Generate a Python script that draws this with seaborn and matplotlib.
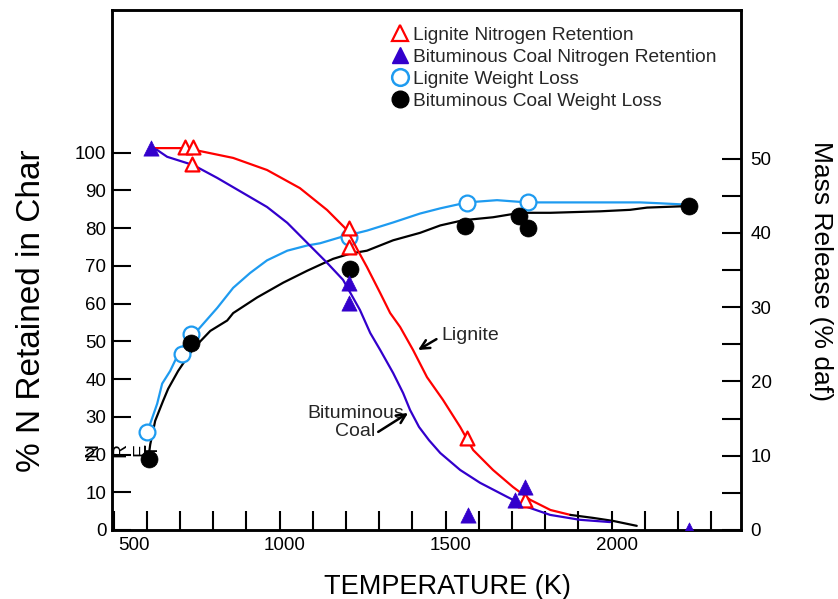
import matplotlib
matplotlib.use("Agg")
import matplotlib.pyplot as plt
import matplotlib.transforms as mtransforms
import seaborn as sns
from matplotlib.lines import Line2D

# ---- measured points ----
lig_n_T = [715, 739, 736, 1209, 1209, 1565, 1739]
lig_n_pct = [101.5, 101.5, 97.1, 80.0, 75.0, 24.4, 8.0]

bit_n_T = [613, 1209, 1209, 1568, 1709, 1739, 2233]
bit_n_pct = [101.2, 65.5, 60.2, 4.0, 8.0, 11.5, 0.0]

lig_wl_T = [601, 705, 733, 1209, 1565, 1747]
lig_wl_pct = [13.2, 23.7, 26.4, 39.4, 44.0, 44.1]

bit_wl_T = [606, 733, 1212, 1559, 1721, 1748, 2234]
bit_wl_pct = [9.5, 25.2, 35.2, 40.9, 42.3, 40.7, 43.6]

# ---- trend curves ----
lig_n_fit_T = [619, 715, 761, 860, 962, 1061, 1143, 1203, 1235, 1263, 1303, 1333,
               1363, 1402, 1444, 1492, 1544, 1583, 1643, 1703, 1755, 1816, 1876]
lig_n_fit = [101.2, 101.2, 100.4, 98.6, 95.4, 90.6, 84.8, 79.5, 74.2, 69.7, 62.8, 57.5,
             53.8, 47.7, 40.5, 34.5, 27.3, 21.2, 15.9, 11.4, 8.0, 5.3, 4.0]

tail_T = [1876, 1945, 2005, 2076]
tail_pct = [4.0, 3.2, 2.4, 1.1]

bit_n_fit_T = [613, 631, 661, 740, 812, 890, 962, 1023, 1083, 1143, 1191, 1242, 1273,
               1303, 1342, 1372, 1393, 1420, 1450, 1484, 1544, 1604, 1685, 1746, 1815, 1905, 1996]
bit_n_fit = [101.2, 100.7, 98.9, 96.7, 93.3, 89.3, 85.6, 81.4, 76.1, 70.8, 66.3, 58.3, 52.2,
             47.7, 41.6, 36.3, 31.8, 27.3, 23.8, 20.4, 15.9, 12.5, 8.8, 6.1, 4.0, 2.7, 2.1]

lig_wl_fit_T = [601, 610, 631, 646, 670, 700, 736, 751, 812, 860, 911, 962, 1023, 1083,
                1122, 1182, 1263, 1342, 1423, 1484, 1565, 1655, 1745, 1836, 2086, 2137, 2227]
lig_wl_fit = [13.2, 14.3, 17.0, 19.7, 21.4, 24.2, 26.4, 26.8, 29.9, 32.6, 34.6, 36.3, 37.6,
              38.3, 38.6, 39.4, 40.3, 41.4, 42.6, 43.3, 44.1, 44.4, 44.1, 44.1, 44.1, 44.0, 43.8]

bit_wl_fit_T = [604, 610, 625, 649, 664, 694, 730, 761, 791, 842, 860, 932, 1011, 1083,
                1161, 1212, 1263, 1342, 1423, 1484, 1553, 1643, 1725, 1816, 1966, 2056, 2107, 2227]
bit_wl_fit = [9.5, 11.5, 14.7, 17.4, 19.0, 21.4, 23.8, 25.4, 26.8, 28.2, 29.2, 31.3, 33.3, 34.9,
              36.5, 37.2, 37.6, 39.0, 40.0, 41.0, 41.7, 42.1, 42.7, 42.7, 42.9, 43.1, 43.4, 43.6]

# ---- labels ----
x_ticks = list(range(500, 2400, 100))
x_labels = [str(t) if t % 500 == 0 else "" for t in x_ticks]
left_ticks = list(range(0, 101, 10))
right_ticks = list(range(0, 51, 5))
right_labels = [str(t) if t % 10 == 0 else "" for t in right_ticks]
legend_labels = ["Lignite Nitrogen Retention", "Bituminous Coal Nitrogen Retention",
                 "Lignite Weight Loss", "Bituminous Coal Weight Loss"]

RED = "#ff0000"
PURPLE = "#3300cc"
SKY = "#1e9bf0"
BLACK = "#000000"

sns.set_theme(style="white")
plt.rcParams["font.family"] = ["Liberation Sans", "DejaVu Sans"]

fig = plt.figure(figsize=(8.38, 5.99), dpi=100)
ax = fig.add_axes([0.1337, 0.1152, 0.7505, 0.8681])
ax2 = ax.twinx()
# nitrogen-retention axis drawn above the mass-release axis
ax.set_zorder(ax2.get_zorder() + 1)
ax.patch.set_visible(False)

# nitrogen retention on the left axis
sns.lineplot(x=lig_n_fit_T, y=lig_n_fit, sort=False, estimator=None, color=RED, lw=1.6, ax=ax)
sns.lineplot(x=tail_T, y=tail_pct, sort=False, estimator=None, color=BLACK, lw=1.6, ax=ax)
sns.lineplot(x=bit_n_fit_T, y=bit_n_fit, sort=False, estimator=None, color=PURPLE, lw=1.6, ax=ax)
sns.scatterplot(x=lig_n_T, y=lig_n_pct, marker="^", s=100, facecolor="white",
                edgecolor=RED, linewidth=1.6, ax=ax, zorder=5)
sns.scatterplot(x=bit_n_T, y=bit_n_pct, marker="^", s=120, color=PURPLE,
                edgecolor=PURPLE, linewidth=0.5, ax=ax, zorder=6)

# mass release on the right axis
sns.lineplot(x=lig_wl_fit_T, y=lig_wl_fit, sort=False, estimator=None, color=SKY, lw=1.6, ax=ax2)
sns.lineplot(x=bit_wl_fit_T, y=bit_wl_fit, sort=False, estimator=None, color=BLACK, lw=1.6, ax=ax2)
sns.scatterplot(x=lig_wl_T, y=lig_wl_pct, marker="o", s=130, facecolor="white",
                edgecolor=SKY, linewidth=1.6, ax=ax2, zorder=5)
sns.scatterplot(x=bit_wl_T, y=bit_wl_pct, marker="o", s=150, color=BLACK,
                edgecolor=BLACK, linewidth=0.5, ax=ax2, zorder=6)

ax.set_xlim(495, 2390)
ax.set_ylim(0, 137.8)
ax2.set_ylim(0, 70)

ax.set_xticks(x_ticks)
ax.set_xticklabels(x_labels)
ax.set_yticks(left_ticks)
ax2.set_yticks(right_ticks)
ax2.set_yticklabels(right_labels)

ax.tick_params(axis="x", direction="in", length=13.5, width=1.5, labelsize=13.5, pad=5,
               bottom=True, top=False, colors="black")
ax.tick_params(axis="y", direction="in", length=13.5, width=1.5, labelsize=13.5, pad=4,
               left=True, right=False, colors="black")
ax2.tick_params(axis="y", direction="in", length=13.5, width=1.5, labelsize=13.5, pad=7,
                right=True, left=False, colors="black")

# nudge the temperature labels slightly to the right
shift = mtransforms.ScaledTranslation(5 / 100, 0, fig.dpi_scale_trans)
for lab in ax.get_xticklabels():
    lab.set_transform(lab.get_transform() + shift)
    if lab.get_text() == "500":
        lab.set_horizontalalignment("left")

for a in (ax, ax2):
    for sp in a.spines.values():
        sp.set_linewidth(1.8)
        sp.set_color("black")

ax.set_xlabel("TEMPERATURE (K)", fontsize=19.5, color="black")
ax.xaxis.set_label_coords(0.533, -0.085)
ax.set_ylabel("% N Retained in Char", fontsize=24, color="black")
ax.yaxis.set_label_coords(-0.103, 0.421)
ax2.set_ylabel("Mass Release (% daf)", fontsize=19, color="black", rotation=270, va="center")
ax2.yaxis.set_label_coords(1.127, 0.498)

# curve annotations
ax.annotate("Lignite", xy=(1417, 47.7), xytext=(1486, 51.5), fontsize=14, ha="left", va="center",
            arrowprops=dict(arrowstyle="->", lw=1.8, color="black", relpos=(0, 0.45),
                            shrinkA=1, shrinkB=0, mutation_scale=16))
ax.text(1228, 28.5, "Bituminous\nCoal", fontsize=14, ha="center", va="center",
        multialignment="center", linespacing=1.05)
ax.annotate("", xy=(1387, 31.0), xytext=(1297, 26.0),
            arrowprops=dict(arrowstyle="->", lw=1.8, color="black", shrinkA=0, shrinkB=0,
                            mutation_scale=16))

# stray rotated glyphs beside the left axis
for gx, ch in [(-0.030, "N"), (0.014, "R"), (0.046, "E"), (0.066, "T")]:
    ax2.text(gx, 0.154, ch, transform=ax2.transAxes, rotation=90, fontsize=14,
             ha="center", va="center", color="black", zorder=1, clip_on=False)

handles = [
    Line2D([], [], ls="none", marker="^", ms=12, mfc="white", mec=RED, mew=1.6),
    Line2D([], [], ls="none", marker="^", ms=12, mfc=PURPLE, mec=PURPLE),
    Line2D([], [], ls="none", marker="o", ms=12, mfc="white", mec=SKY, mew=1.8),
    Line2D([], [], ls="none", marker="o", ms=12, mfc=BLACK, mec=BLACK),
]
ax.legend(handles, legend_labels, loc="upper left", bbox_to_anchor=(0.445, 0.969),
          frameon=False, fontsize=13.8, handlelength=0.8, handletextpad=0.3,
          labelspacing=0.25, borderpad=0, borderaxespad=0)

fig.savefig("out.png", dpi=100)
